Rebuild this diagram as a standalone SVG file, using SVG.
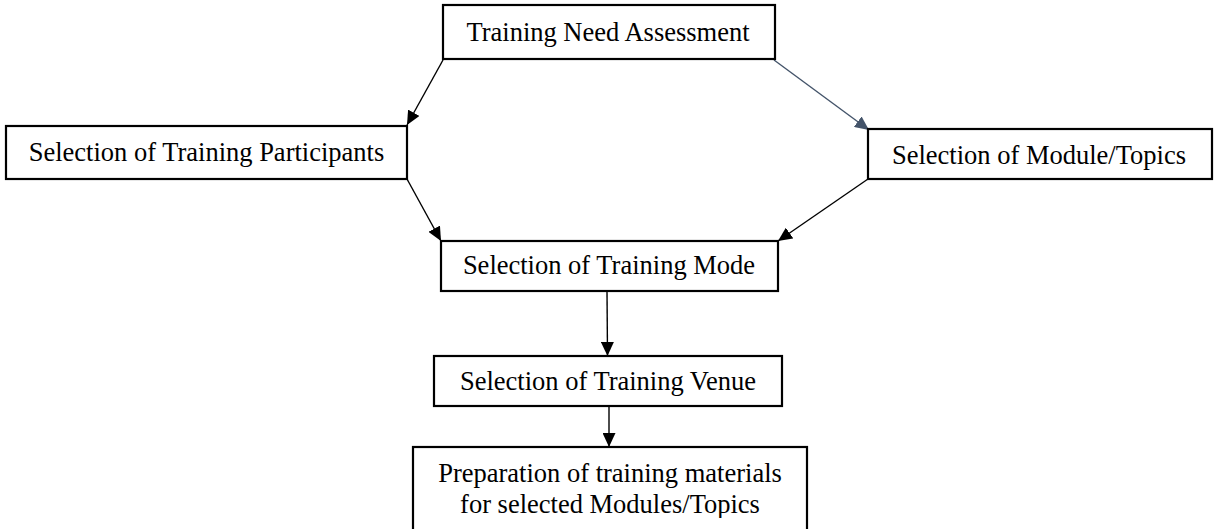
<svg xmlns="http://www.w3.org/2000/svg" width="1214" height="529" viewBox="0 0 1214 529">
<style>
.box{fill:#fff;stroke:#000;stroke-width:2.2}
.lbl{font-family:"Liberation Serif","Times New Roman",serif;font-size:26.5px;fill:#000;text-anchor:middle}
.con{stroke:#000;stroke-width:1.4;fill:none}
.con2{stroke:#44546A;stroke-width:1.4;fill:none}
</style>
<defs>
<marker id="ah" viewBox="0 0 14 13" refX="14" refY="6.5" markerWidth="14" markerHeight="13" markerUnits="userSpaceOnUse" orient="auto">
<path d="M0,0 L14,6.5 L0,13 z" fill="#000"/>
</marker>
<marker id="ah2" viewBox="0 0 14 13" refX="14" refY="6.5" markerWidth="14" markerHeight="13" markerUnits="userSpaceOnUse" orient="auto">
<path d="M0,0 L14,6.5 L0,13 z" fill="#44546A"/>
</marker>
<clipPath id="clipPrep"><rect x="0" y="0" width="1214" height="518"/></clipPath>
</defs>
<rect width="1214" height="529" fill="#fff"/>
<g id="connectors">
<line class="con" x1="443" y1="60" x2="407" y2="125" marker-end="url(#ah)"/>
<line class="con2" x1="774" y1="60" x2="869" y2="130" marker-end="url(#ah2)"/>
<line class="con" x1="407" y1="179" x2="441" y2="241" marker-end="url(#ah)"/>
<line class="con" x1="868" y1="179" x2="778" y2="241" marker-end="url(#ah)"/>
<line class="con" x1="607" y1="291" x2="607.5" y2="356" marker-end="url(#ah)"/>
<line class="con" x1="609" y1="406" x2="609" y2="447" marker-end="url(#ah)"/>
</g>
<g id="n-tna">
<rect class="box" x="443" y="5" width="332" height="54"/>
<text class="lbl" x="608" y="41">Training Need Assessment</text>
</g>
<g id="n-participants">
<rect class="box" x="6" y="126" width="401" height="53"/>
<text class="lbl" x="206.5" y="161">Selection of Training Participants</text>
</g>
<g id="n-module">
<rect class="box" x="868" y="129" width="344" height="50"/>
<text class="lbl" x="1039" y="164">Selection of Module/Topics</text>
</g>
<g id="n-mode">
<rect class="box" x="441" y="241" width="337" height="50"/>
<text class="lbl" x="609" y="274">Selection of Training Mode</text>
</g>
<g id="n-venue">
<rect class="box" x="434" y="356" width="348" height="50"/>
<text class="lbl" x="608" y="390">Selection of Training Venue</text>
</g>
<g id="n-prep">
<rect class="box" x="413" y="447" width="394" height="95"/>
<g clip-path="url(#clipPrep)">
<text class="lbl" x="610" y="482">Preparation of training materials</text>
<text class="lbl" x="610" y="513">for selected Modules/Topics</text>
</g>
</g>
</svg>
